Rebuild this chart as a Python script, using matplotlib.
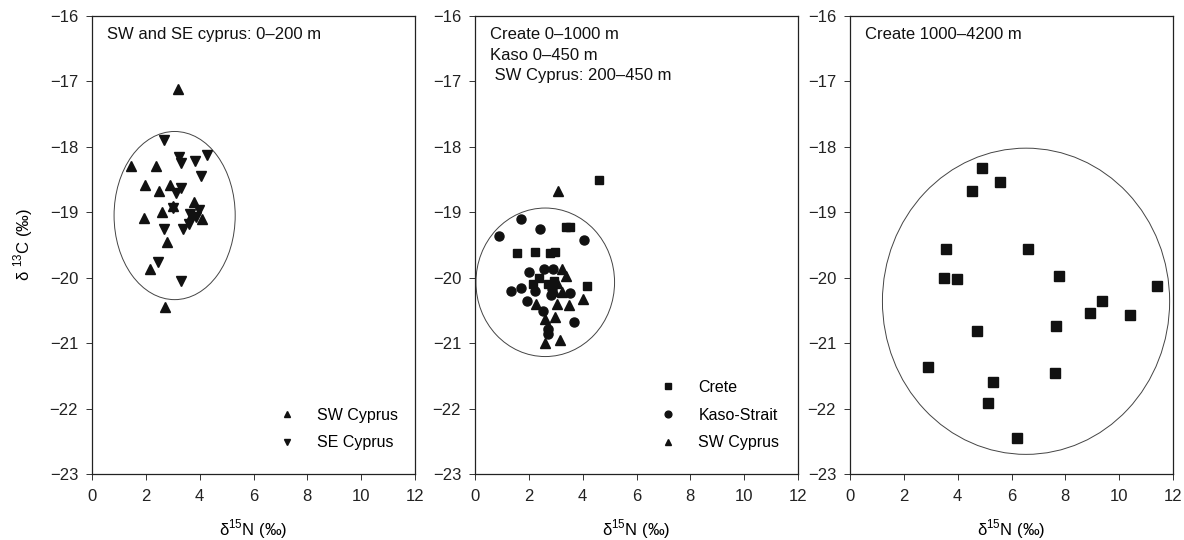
import matplotlib
matplotlib.use("Agg")
import matplotlib.pyplot as plt
from matplotlib.patches import Ellipse

plt.rcParams['font.family'] = ['Liberation Sans', 'DejaVu Sans']
plt.rcParams['mathtext.fontset'] = 'custom'
plt.rcParams['mathtext.rm'] = 'Liberation Sans'
plt.rcParams['font.size'] = 12

# panel 1: SW and SE Cyprus 0-200 m
sw1_n = [3.19, 1.44, 2.39, 1.98, 2.91, 2.50, 3.02, 3.79, 2.60, 1.94, 4.10, 3.71, 2.78, 2.14, 2.71]
sw1_c = [-17.12, -18.29, -18.29, -18.58, -18.58, -18.67, -18.90, -18.84, -19.00, -19.08, -19.11, -19.02, -19.46, -19.86, -20.44]
se1_n = [2.68, 3.25, 3.30, 3.84, 4.29, 4.04, 3.30, 3.13, 3.02, 3.99, 3.85, 3.65, 3.60, 3.37, 2.68, 2.47, 3.30]
se1_c = [-17.90, -18.16, -18.24, -18.21, -18.12, -18.44, -18.63, -18.71, -18.93, -18.97, -19.07, -19.02, -19.18, -19.25, -19.25, -19.76, -20.05]

# panel 2: Crete 0-1000 m, Kaso 0-450 m, SW Cyprus 200-450 m
crete_n = [4.60, 3.38, 3.53, 1.57, 2.23, 2.77, 2.99, 2.38, 2.14, 2.72, 4.17, 2.95, 2.72]
crete_c = [-18.50, -19.22, -19.22, -19.62, -19.61, -19.62, -19.61, -20.00, -20.10, -20.10, -20.12, -20.05, -20.82]
kaso_n = [0.90, 1.70, 2.41, 4.04, 1.99, 2.57, 2.88, 1.32, 1.70, 2.23, 1.95, 2.51, 2.83, 3.53, 3.68, 2.72, 2.72, 2.85]
kaso_c = [-19.37, -19.11, -19.25, -19.42, -19.92, -19.86, -19.86, -20.21, -20.15, -20.20, -20.35, -20.51, -20.27, -20.23, -20.68, -20.78, -20.86, -20.18]
sw2_n = [3.10, 3.22, 3.37, 3.06, 3.25, 2.26, 3.06, 3.49, 4.02, 2.60, 2.98, 2.60, 3.15, 2.94]
sw2_c = [-18.68, -19.87, -19.98, -20.08, -20.22, -20.40, -20.40, -20.42, -20.33, -20.63, -20.60, -21.00, -20.95, -20.20]

# panel 3: Crete 1000-4200 m
crete3_n = [4.90, 5.59, 4.52, 3.57, 6.61, 3.51, 3.98, 7.75, 11.39, 9.38, 8.93, 10.39, 4.72, 7.64, 2.90, 7.60, 5.33, 5.14, 6.19]
crete3_c = [-18.33, -18.53, -18.68, -19.56, -19.56, -20.00, -20.02, -19.97, -20.12, -20.36, -20.54, -20.57, -20.82, -20.74, -21.36, -21.46, -21.60, -21.92, -22.45]

# ellipses (center x, center y, width, height)
ell1 = (3.07, -19.05, 4.50, 2.57)
ell2 = (2.61, -20.07, 5.15, 2.27)
ell3 = (6.54, -20.36, 10.67, 4.68)

titles = ["SW and SE cyprus: 0\u2013200 m",
          "Create 0\u20131000 m\nKaso 0\u2013450 m\n SW Cyprus: 200\u2013450 m",
          "Create 1000\u20134200 m"]

fig = plt.figure(figsize=(11.84, 5.4), dpi=100)
lefts = [92, 475, 850]
axes = []
for l in lefts:
    ax = fig.add_axes([l / 1184, 66 / 540, 323 / 1184, 458 / 540])
    axes.append(ax)

for ax, t, e in zip(axes, titles, [ell1, ell2, ell3]):
    ax.set_xlim(0, 12)
    ax.set_ylim(-23, -16)
    ax.set_xticks(range(0, 13, 2))
    ax.set_yticks(range(-23, -15))
    ax.tick_params(direction='out', length=4, width=0.7, color='#333333', labelcolor='#222222')
    ax.tick_params(axis='x', pad=7)
    ax.tick_params(axis='y', pad=6)
    for s in ax.spines.values():
        s.set_linewidth(0.9)
        s.set_color('#222222')
    ax.set_xlabel("\u03b4$^{15}$N (\u2030)", fontsize=12)
    ax.xaxis.set_label_coords(0.5, -0.095)
    ax.add_patch(Ellipse((e[0], e[1]), e[2], e[3], fill=False, lw=0.7, ec='#444444'))
    ax.text(0.045, 0.975, t, transform=ax.transAxes, va='top', ha='left',
            fontsize=12, linespacing=1.45, color='#111111')

ax1, ax2, ax3 = axes
ax1.set_ylabel("\u03b4 $^{13}$C (\u2030)", fontsize=12)
ax1.yaxis.set_label_coords(-0.175, 0.5)

k = '#111111'
ax1.plot(sw1_n, sw1_c, '^', color=k, ms=6.5, ls='none', label='SW Cyprus')
ax1.plot(se1_n, se1_c, 'v', color=k, ms=6.5, ls='none', label='SE Cyprus')
ax1.legend(loc='lower left', bbox_to_anchor=(0.51, 0.02), frameon=False, fontsize=11.5,
           handletextpad=0.875, labelspacing=0.8, markerscale=0.75)

ax2.plot(crete_n, crete_c, 's', color=k, ms=6, ls='none', label='Crete')
ax2.plot(kaso_n, kaso_c, 'o', color=k, ms=6.5, ls='none', label='Kaso-Strait')
ax2.plot(sw2_n, sw2_c, '^', color=k, ms=6.5, ls='none', label='SW Cyprus')
ax2.legend(loc='lower left', bbox_to_anchor=(0.505, 0.02), frameon=False, fontsize=11.5,
           handletextpad=0.875, labelspacing=0.8, markerscale=0.75)

ax3.plot(crete3_n, crete3_c, 's', color=k, ms=6.5, ls='none')

fig.savefig("out.png", dpi=100)
